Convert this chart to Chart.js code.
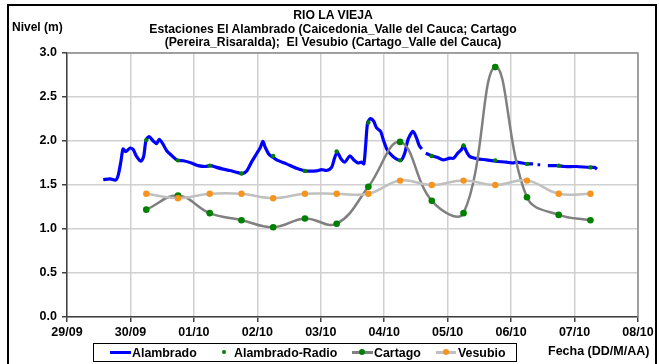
<!DOCTYPE html>
<html>
<head>
<meta charset="utf-8">
<script src="https://cdn.jsdelivr.net/npm/chart.js@4/dist/chart.umd.min.js"></script>
<style>
  html, body { margin: 0; padding: 0; background: #fff; }
  #wrap { position: relative; width: 659px; height: 364px; overflow: hidden; font-family: "Liberation Sans", Arial, sans-serif; font-weight: bold; color: #000; }
  #grafico { position: absolute; left: 0; top: 0; }
  #marco { position: absolute; left: 7px; top: 4px; width: 650px; height: 380px; border: 2.5px solid #000; box-sizing: border-box; }
  .txt { position: absolute; white-space: nowrap; font-size: 12px; line-height: 13px; }
  #titulo { position: absolute; left: 0; width: 666px; top: 9px; text-align: center; font-size: 12.2px; line-height: 13.6px; }
  #leyenda { position: absolute; left: 93px; top: 343px; width: 424px; height: 19px; border: 1px solid #000; box-sizing: border-box; }
  .ley-linea { position: absolute; height: 3px; }
  .ley-punto { position: absolute; width: 6px; height: 6px; border-radius: 50%; }
</style>
</head>
<body>
<div id="wrap">
  <canvas id="grafico" width="659" height="364"></canvas>
  <div id="marco"></div>
  <div id="titulo">RIO LA VIEJA<br>Estaciones El Alambrado (Caicedonia_Valle del Cauca; Cartago<br>(Pereira_Risaralda);&nbsp; El Vesubio (Cartago_Valle del Cauca)</div>
  <div class="txt" style="left:12px; top:21px;">Nivel (m)</div>
  <div class="txt" style="left:548px; top:345px; font-size:12.5px;">Fecha (DD/M/AA)</div>
  <div id="leyenda">
    <div class="ley-linea" style="left:16px; top:7px; width:21px; background:#0000ff;"></div>
    <div class="txt" style="left:38px; top:3px; font-size:12.4px;">Alambrado</div>
    <div class="ley-punto" style="left:128px; top:6px; width:4px; height:4px; background:#008000;"></div>
    <div class="txt" style="left:140px; top:3px; font-size:12.4px;">Alambrado-Radio</div>
    <div class="ley-linea" style="left:258px; top:7px; width:21px; background:#808080;"></div>
    <div class="ley-punto" style="left:265px; top:5px; background:#008000;"></div>
    <div class="txt" style="left:280px; top:3px; font-size:12.4px;">Cartago</div>
    <div class="ley-linea" style="left:342px; top:7px; width:20px; background:#c0c0c0;"></div>
    <div class="ley-punto" style="left:349px; top:5px; background:#f7941d;"></div>
    <div class="txt" style="left:364px; top:3px; font-size:12.4px;">Vesubio</div>
  </div>
</div>
<script>
// etiquetas de los dias (una por cada 24 h desde el 29/09 00:00)
const diasEje = ['29/09', '30/09', '01/10', '02/10', '03/10', '04/10', '05/10', '06/10', '07/10', '08/10'];

// lecturas cada 12 h (horas contadas desde el 29/09 00:00)
const horasEstaciones = [30, 42, 54, 66, 78, 90, 102, 114, 126, 138, 150, 162, 174, 186, 198];
const nivelCartago = [1.22, 1.38, 1.18, 1.10, 1.02, 1.12, 1.06, 1.48, 1.99, 1.32, 1.18, 2.84, 1.36, 1.16, 1.10];
const nivelVesubio = [1.40, 1.35, 1.40, 1.40, 1.35, 1.40, 1.40, 1.40, 1.55, 1.50, 1.55, 1.50, 1.55, 1.40, 1.40];
const nivelAlambradoRadio = [2.01, 1.78, 1.72, 1.63, 1.83, 1.66, 1.88, 2.21, 1.78, 1.83, 1.95, 1.78, 1.74, 1.72, 1.70];

// sensor El Alambrado (registro continuo, null = sin dato)
const horasAlambrado = [
  13.7, 16.3, 18.4, 19.4, 20.4, 21.2, 22.2, 23.9, 25.1, 26.3, 28.0, 29.0, 29.9, 31.1, 32.6, 33.9, 34.9, 36.2, 37.7, 39.6,
  41.8, 44.0, 47.1, 49.6, 52.2, 54.3, 56.6, 59.1, 61.6, 64.1, 66.3, 67.9, 69.8, 71.7, 73.2, 74.1, 75.1, 76.5, 78.2, 79.3,
  83.0, 86.8, 90.2, 94.4, 96.3, 98.2, 100.1, 101.2, 102.2, 103.5, 105.1, 107.0, 108.5, 110.1, 111.4, 112.3, 113.0, 113.7, 114.8, 116.0,
  117.1, 118.6, 119.8, 121.1, 123.3, 126.3, 127.8, 129.0, 130.9, 132.2, 133.2, 134.2, 134.9, 135.7, 138.1, 140.4, 142.2, 144.8, 146.3, 147.9,
  149.2, 150.0, 151.1, 152.3, 154.9, 158.7, 162.1, 166.2, 168.7, 170.0, 173.8, 176.3, 177.3, 178.0, 179.0, 180.5, 181.9, 185.7, 188.2, 192.6,
  197.7, 199.6, 200.5
];
const nivelAlambrado = [
  1.56, 1.57, 1.555, 1.615, 1.77, 1.91, 1.88, 1.92, 1.90, 1.825, 1.77, 1.825, 2.01, 2.05, 2.00, 1.97, 2.02, 1.97, 1.89, 1.835,
  1.78, 1.775, 1.75, 1.72, 1.71, 1.72, 1.70, 1.68, 1.665, 1.645, 1.63, 1.655, 1.76, 1.855, 1.93, 1.995, 1.92, 1.845, 1.81, 1.785,
  1.74, 1.69, 1.66, 1.66, 1.675, 1.665, 1.70, 1.805, 1.875, 1.805, 1.76, 1.83, 1.785, 1.75, 1.76, 1.74, 1.96, 2.205, 2.255, 2.225,
  2.15, 2.11, 2.00, 1.90, 1.825, 1.78, 1.865, 2.015, 2.11, 2.035, 1.95, 1.91, null, 1.86, 1.83, 1.81, 1.785, 1.805, 1.805, 1.865,
  1.90, 1.95, 1.88, 1.825, 1.80, 1.785, 1.77, 1.76, 1.75, 1.76, 1.74, 1.74, null, 1.73, 1.73, null, 1.72, 1.72, 1.71, 1.71,
  1.70, 1.70, 1.68
];

const fuente = { family: '"Liberation Sans", Arial, sans-serif', weight: 'bold', size: 12.5 };

function puntos(horas, valores) {
  return horas.map((h, i) => ({ x: h, y: valores[i] }));
}

// borde gris arriba y a la derecha del area de trazado
const bordeArea = {
  id: 'bordeArea',
  beforeDatasetsDraw(chart) {
    const { ctx, chartArea: a } = chart;
    ctx.save();
    ctx.strokeStyle = '#8c8c8c';
    ctx.lineWidth = 1.5;
    ctx.beginPath();
    ctx.moveTo(a.left, a.top);
    ctx.lineTo(a.right, a.top);
    ctx.lineTo(a.right, a.bottom);
    ctx.stroke();
    ctx.restore();
  }
};

new Chart(document.getElementById('grafico'), {
  type: 'line',
  data: {
    datasets: [
      {
        label: 'Alambrado',
        data: puntos(horasAlambrado, nivelAlambrado),
        borderColor: '#0000ff',
        borderWidth: 3.2,
        pointRadius: 0,
        tension: 0.25,
        spanGaps: false,
        order: 3
      },
      {
        label: 'Alambrado-Radio',
        data: puntos(horasEstaciones, nivelAlambradoRadio),
        showLine: false,
        pointRadius: 2.2,
        pointBorderWidth: 0,
        pointBackgroundColor: '#008000',
        order: 2
      },
      {
        label: 'Cartago',
        data: puntos(horasEstaciones, nivelCartago),
        borderColor: '#808080',
        borderWidth: 2.5,
        pointRadius: 3.3,
        pointBorderWidth: 0,
        pointBackgroundColor: '#008000',
        tension: 0.4,
        order: 1
      },
      {
        label: 'Vesubio',
        data: puntos(horasEstaciones, nivelVesubio),
        borderColor: '#c0c0c0',
        borderWidth: 2.5,
        pointRadius: 3.2,
        pointBorderWidth: 0,
        pointBackgroundColor: '#f7941d',
        tension: 0.4,
        order: 0
      }
    ]
  },
  options: {
    responsive: false,
    animation: false,
    devicePixelRatio: 1,
    layout: { padding: { top: 53, right: 21, left: 0, bottom: 0 } },
    plugins: { legend: { display: false }, title: { display: false }, tooltip: { enabled: false } },
    scales: {
      x: {
        type: 'linear',
        min: 0,
        max: 216,
        afterFit: (s) => { s.height = 47; },
        ticks: {
          stepSize: 24,
          autoSkip: false,
          maxRotation: 0,
          padding: 3,
          color: '#000',
          font: fuente,
          callback: (v) => diasEje[v / 24]
        },
        grid: { color: '#d0d0d0', lineWidth: 1.5, tickColor: '#404040', tickLength: 5 },
        border: { color: '#404040', width: 1.5 }
      },
      y: {
        min: 0,
        max: 3,
        afterFit: (s) => { s.width = 67; },
        ticks: {
          stepSize: 0.5,
          padding: 5,
          color: '#000',
          font: fuente,
          callback: (v) => v.toFixed(1)
        },
        grid: { color: '#d0d0d0', lineWidth: 1.5, tickColor: '#404040', tickLength: 5 },
        border: { color: '#404040', width: 1.5 }
      }
    }
  },
  plugins: [bordeArea]
});
</script>
</body>
</html>
